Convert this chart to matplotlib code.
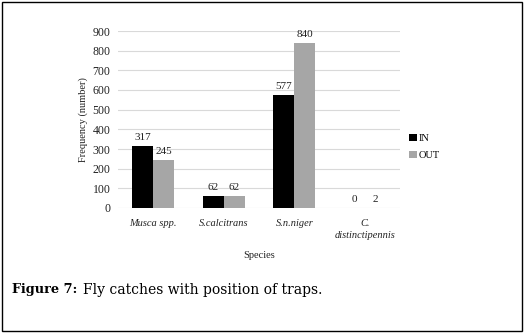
import numpy as np
import matplotlib
matplotlib.use("Agg")
import matplotlib.pyplot as plt
from matplotlib.patches import Rectangle

# data
species = ["Musca spp.", "S.calcitrans", "S.n.niger", "C.\ndistinctipennis"]
in_counts = [317, 62, 577, 0]
out_counts = [245, 62, 840, 2]
series_names = ["IN", "OUT"]
y_ticks = list(range(0, 1000, 100))

plt.rcParams['font.family'] = ['Liberation Serif', 'DejaVu Serif']

W, H = 524, 335
fig = plt.figure(figsize=(W / 100, H / 100), dpi=100)

# frame round the whole figure
fig.patches.append(Rectangle((1.5 / W, 4.5 / H), (W - 4) / W, (H - 6) / H,
                             transform=fig.transFigure, fill=False,
                             edgecolor="black", linewidth=1.0))

ax = fig.add_axes([118 / W, 1 - 208 / H, (400 - 118) / W, (208 - 31) / H])

x = np.arange(len(species))
bw = 0.3
b1 = ax.bar(x - bw / 2, in_counts, bw, color="black", label=series_names[0])
b2 = ax.bar(x + bw / 2, out_counts, bw, color="#a6a6a6", label=series_names[1])

for bars in (b1, b2):
    for r in bars:
        ax.text(r.get_x() + r.get_width() / 2, r.get_height() + 20,
                f"{int(r.get_height())}", ha="center", va="bottom",
                fontsize=8, color="#222222")

ax.set_xlim(-0.5, len(species) - 0.5)
ax.set_ylim(0, 900)
ax.set_yticks(y_ticks)
ax.set_yticklabels([str(v) for v in y_ticks], fontsize=8.5, color="#222222")
ax.set_xticks(x)
ax.set_xticklabels(species, fontsize=7.5, style="italic", color="#222222",
                   linespacing=1.4)
ax.tick_params(axis="y", length=0, pad=5.5)
ax.tick_params(axis="x", length=0, pad=8)
ax.grid(axis="y", color="#d9d9d9", linewidth=0.8)
ax.set_axisbelow(True)
for s in ax.spines.values():
    s.set_visible(False)

ax.set_ylabel("Frequency (number)", fontsize=7.5, color="#222222", labelpad=3)
ax.set_xlabel("Species", fontsize=7.5, color="#222222", labelpad=8)

leg = ax.legend(loc="center left", bbox_to_anchor=(1.0, 0.345), frameon=False,
                fontsize=7.5, handlelength=0.7, handleheight=0.7,
                handletextpad=0.2, labelspacing=0.7)

fig.text(12 / W, 1 - 290 / H, "Figure 7:", fontsize=9.3, fontweight="bold",
         family="DejaVu Serif", va="center", ha="left")
fig.text(83 / W, 1 - 290 / H, "Fly catches with position of traps.",
         fontsize=10, family="DejaVu Serif", va="center", ha="left")

fig.savefig("out.png", dpi=100)
